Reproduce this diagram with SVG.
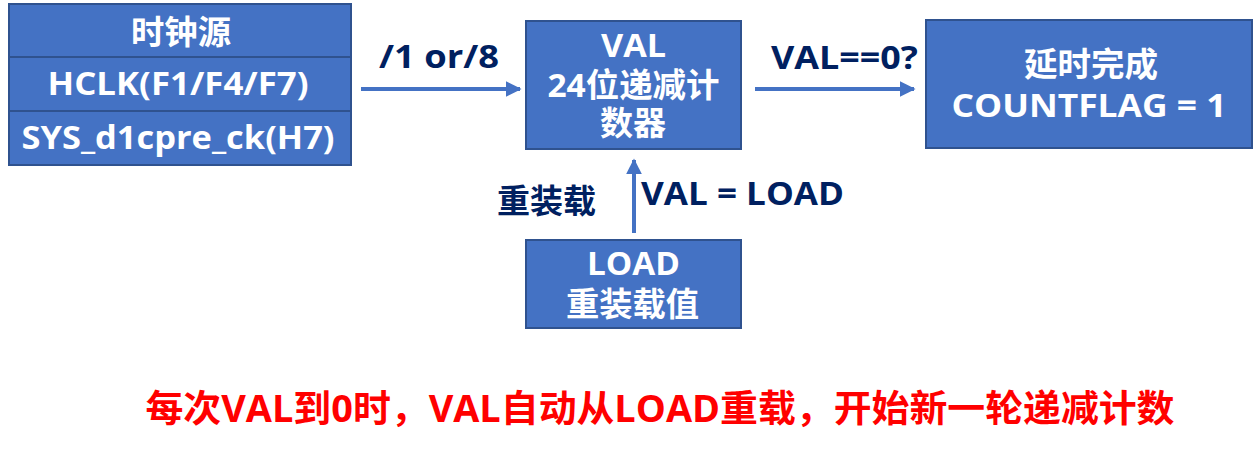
<svg xmlns="http://www.w3.org/2000/svg" width="1256" height="453" viewBox="0 0 1256 453">
<defs>
<style>
.box{fill:#4472C4;stroke:#2F528F;stroke-width:2}
.wt{fill:#FFFFFF;font-family:"Open Sans","Noto Sans CJK SC",sans-serif;font-weight:bold;font-size:33px;text-anchor:middle}
.lb{fill:#002060;font-family:"Open Sans","Noto Sans CJK SC",sans-serif;font-weight:bold;font-size:33px;text-anchor:middle}
.red{fill:#FF0000;font-family:"Open Sans","Noto Sans CJK SC",sans-serif;font-weight:bold;font-size:37px;text-anchor:middle}
.conn{stroke:#4472C4;stroke-width:4;fill:none}
</style>
<marker id="ah" markerWidth="4" markerHeight="4" refX="3.6" refY="2" orient="auto" markerUnits="strokeWidth">
<path d="M0,0 L4,2 L0,4 z" fill="#4472C4"/>
</marker>
</defs>
<rect width="1256" height="453" fill="#FFFFFF"/>
<g id="clock-source">
<rect class="box" x="9" y="4" width="342" height="161"/>
<line x1="9" y1="57" x2="351" y2="57" stroke="#2F528F" stroke-width="2"/>
<line x1="9" y1="111" x2="351" y2="111" stroke="#2F528F" stroke-width="2"/>
<text class="wt" x="181" y="44" textLength="100" lengthAdjust="spacingAndGlyphs">时钟源</text>
<text class="wt" x="178" y="95" textLength="261" lengthAdjust="spacingAndGlyphs">HCLK(F1/F4/F7)</text>
<text class="wt" x="178" y="149" textLength="313" lengthAdjust="spacingAndGlyphs">SYS_d1cpre_ck(H7)</text>
</g>
<g id="val-counter">
<rect class="box" x="526" y="21" width="215" height="128"/>
<text class="wt" x="633.5" y="57" textLength="65" lengthAdjust="spacingAndGlyphs">VAL</text>
<text class="wt" x="633.5" y="97" textLength="172" lengthAdjust="spacingAndGlyphs">24位递减计</text>
<text class="wt" x="633" y="135" textLength="66" lengthAdjust="spacingAndGlyphs">数器</text>
</g>
<g id="delay-done">
<rect class="box" x="926" y="20" width="326" height="128"/>
<text class="wt" x="1091" y="76" textLength="134" lengthAdjust="spacingAndGlyphs">延时完成</text>
<text class="wt" x="1089" y="117" textLength="275" lengthAdjust="spacingAndGlyphs">COUNTFLAG = 1</text>
</g>
<g id="load-value">
<rect class="box" x="526" y="240" width="215" height="88"/>
<text class="wt" x="633.5" y="275" textLength="93" lengthAdjust="spacingAndGlyphs">LOAD</text>
<text class="wt" x="632.5" y="316" textLength="133" lengthAdjust="spacingAndGlyphs">重装载值</text>
</g>
<g id="connectors">
<line class="conn" x1="361" y1="89" x2="520" y2="89" marker-end="url(#ah)"/>
<line class="conn" x1="755" y1="89" x2="914" y2="89" marker-end="url(#ah)"/>
<line class="conn" x1="634" y1="233" x2="634" y2="160" marker-end="url(#ah)"/>
<text class="lb" x="439" y="68" textLength="120" lengthAdjust="spacingAndGlyphs">/1 or/8</text>
<text class="lb" x="844.5" y="69" textLength="147" lengthAdjust="spacingAndGlyphs">VAL==0?</text>
<text class="lb" x="546.5" y="213" textLength="99" lengthAdjust="spacingAndGlyphs">重装载</text>
<text class="lb" x="742.5" y="205" textLength="203" lengthAdjust="spacingAndGlyphs">VAL = LOAD</text>
</g>
<text class="red" x="660" y="422" textLength="1029" lengthAdjust="spacingAndGlyphs">每次VAL到0时，VAL自动从LOAD重载，开始新一轮递减计数</text>
</svg>
